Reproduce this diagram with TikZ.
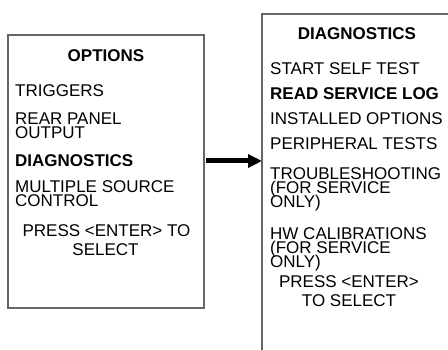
\documentclass[tikz,border=0pt]{standalone}
\usepackage{fontspec}
\setmainfont{Liberation Sans}
\usetikzlibrary{arrows.meta}
\begin{document}
\begin{tikzpicture}[x=1pt,y=-1pt,
  box/.style={draw=black!60,line width=1.2pt,inner sep=0pt,outer sep=0pt},
  txt/.style={anchor=base west,inner sep=0pt,font=\fontsize{17}{14}\selectfont},
  ctxt/.style={anchor=base,inner sep=0pt,font=\fontsize{17}{14}\selectfont},
  btxt/.style={txt,font=\fontsize{17}{14}\selectfont\bfseries},
  bctxt/.style={ctxt,font=\fontsize{17}{14}\selectfont\bfseries}]
\useasboundingbox (0,0) rectangle (448,350);
% left box
\node[box,minimum width=196pt,minimum height=273pt] (opt) at (106,171.5) {};
% right box (extends beyond the picture)
\node[box,minimum width=200pt,minimum height=350pt] (diag) at (362,189) {};
% arrow
\coordinate (as) at (opt.east |- 0,161);
\coordinate (ae) at (diag.west |- 0,161);
\draw[line width=5pt,-{Triangle[length=14pt,width=13pt]}] ([xshift=2pt]as) -- (ae);
% left texts
\node[bctxt] (o0) at (106,61.5) {OPTIONS};
\node[txt] (o1) at (15,97) {TRIGGERS};
\node[txt] (o2) at (15,125) {REAR PANEL};
\node[txt] (o3) at (15,139) {OUTPUT};
\node[btxt] (o4) at (15,167) {DIAGNOSTICS};
\node[txt] (o5) at (15,193) {MULTIPLE SOURCE};
\node[txt] (o6) at (15,207) {CONTROL};
\node[ctxt] (o7) at (106.5,237) {PRESS <ENTER> TO};
\node[ctxt] (o8) at (105.5,256) {SELECT};
% right texts
\node[bctxt] (d0) at (357,40) {DIAGNOSTICS};
\node[txt] (d1) at (270,75) {START SELF TEST};
\node[btxt] (d2) at (270,100) {READ SERVICE LOG};
\node[txt] (d3) at (270,125) {INSTALLED OPTIONS};
\node[txt] (d4) at (270,150) {PERIPHERAL TESTS};
\node[txt] (d5) at (270,180) {TROUBLESHOOTING};
\node[txt] (d6) at (270,194) {(FOR SERVICE};
\node[txt] (d7) at (270,208) {ONLY)};
\node[txt] (d8) at (270,240) {HW CALIBRATIONS};
\node[txt] (d9) at (270,254) {(FOR SERVICE};
\node[txt] (d10) at (270,268) {ONLY)};
\node[ctxt] (d11) at (349,288) {PRESS <ENTER>};
\node[ctxt] (d12) at (349,307) {TO SELECT};
\end{tikzpicture}
\end{document}
